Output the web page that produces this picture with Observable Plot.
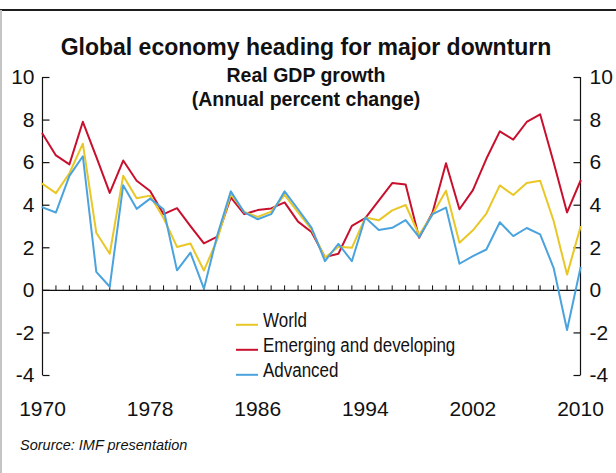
<!DOCTYPE html>
<html>
<head>
<meta charset="utf-8">
<script src="https://cdn.jsdelivr.net/npm/d3@7"></script>
<script src="https://cdn.jsdelivr.net/npm/@observablehq/plot@0.6"></script>
<style>
  body { margin: 0; background: #fff; }
  #wrap { position: relative; width: 616px; height: 473px; overflow: hidden; background: #fff; }
  #topline { position: absolute; left: 0; top: 9px; width: 616px; height: 2px; background: #1e1e1e; }
  #leftline { position: absolute; left: 0; top: 10px; width: 2px; height: 463px; background: #c4c4c4; }
  #chart, #overlay { position: absolute; left: 0; top: 0; }
  #overlay { pointer-events: none; }
</style>
</head>
<body>
<div id="wrap">
  <div id="topline"></div>
  <div id="leftline"></div>
  <div id="chart"></div>
</div>
<script>
// Real GDP growth, annual percent change, 1970–2010
const years = d3.range(1970, 2011);

const world = [
  5.0, 4.57, 5.5, 6.89, 2.71, 1.72, 5.38, 4.33, 4.45, 3.4,
  2.04, 2.2, 0.93, 2.4, 4.52, 3.69, 3.45, 3.7, 4.49, 3.66,
  2.87, 1.53, 2.05, 2.0, 3.42, 3.29, 3.76, 4.01, 2.6, 3.58,
  4.68, 2.24, 2.82, 3.61, 4.93, 4.48, 5.04, 5.15, 3.27, 0.74,
  2.98
];

const emerging = [
  7.36, 6.34, 5.92, 7.92, 6.27, 4.58, 6.1, 5.15, 4.67, 3.58,
  3.86, 3.02, 2.21, 2.52, 4.37, 3.58, 3.77, 3.85, 4.13, 3.23,
  2.74, 1.56, 1.72, 3.03, 3.39, 4.22, 5.04, 4.97, 2.47, 3.66,
  5.97, 3.81, 4.71, 6.18, 7.47, 7.08, 7.91, 8.27, 6.02, 3.66,
  5.15
];

const advanced = [
  3.9, 3.66, 5.38, 6.3, 0.87, 0.17, 4.94, 3.83, 4.31, 3.81,
  0.94, 1.77, 0.08, 2.6, 4.65, 3.66, 3.34, 3.58, 4.65, 3.81,
  2.95, 1.37, 2.19, 1.37, 3.42, 2.84, 2.94, 3.3, 2.5, 3.58,
  3.89, 1.25, 1.61, 1.92, 3.2, 2.55, 2.93, 2.63, 1.06, -1.86,
  1.06
];

const seriesNames = ["World", "Emerging and developing", "Advanced"];
const seriesColors = ["#e8c726", "#c8102e", "#4ba3de"];
const seriesValues = [world, emerging, advanced];

const yTicks = [-4, -2, 0, 2, 4, 6, 8, 10];
const yearLabels = [1970, 1978, 1986, 1994, 2002, 2010];

const titleText = "Global economy heading for major downturn";
const subtitleLines = ["Real GDP growth", "(Annual percent change)"];
const sourceText = "Sorurce: IMF presentation";

// long-format rows for the line marks
const rows = seriesNames.flatMap((name, s) =>
  years.map((year, i) => ({year, value: seriesValues[s][i], series: name}))
);

// small tick glyphs drawn as custom dot symbols
const tickUp = {draw(ctx) { ctx.moveTo(0, 0); ctx.lineTo(0, -5); }};
const tickRight = {draw(ctx) { ctx.moveTo(0, 0); ctx.lineTo(7, 0); }};
const tickLeft = {draw(ctx) { ctx.moveTo(0, 0); ctx.lineTo(-7, 0); }};

const numFont = "'Liberation Sans', Arial, sans-serif";

const chart = Plot.plot({
  width: 616,
  height: 473,
  marginTop: 77,
  marginBottom: 98,
  marginLeft: 42,
  marginRight: 36,
  style: {background: "transparent", fontFamily: numFont, color: "#111", overflow: "visible"},
  x: {domain: [1970, 2010], axis: null},
  y: {domain: [-4, 10], axis: null},
  color: {domain: seriesNames, range: seriesColors},
  marks: [
    Plot.ruleX([1970, 2010], {stroke: "#111", strokeWidth: 1.2}),
    Plot.ruleY([0], {stroke: "#111", strokeWidth: 1.2}),
    Plot.dot(years, {x: d => d, y: 0, symbol: tickUp, stroke: "#111", fill: "none", strokeWidth: 1}),
    Plot.dot(yTicks, {y: d => d, frameAnchor: "left", symbol: tickRight, stroke: "#111", fill: "none", strokeWidth: 1.2}),
    Plot.dot(yTicks, {y: d => d, frameAnchor: "right", symbol: tickLeft, stroke: "#111", fill: "none", strokeWidth: 1.2}),
    Plot.text(yTicks, {y: d => d, frameAnchor: "left", textAnchor: "end", dx: -8, text: d => String(d), fontSize: 21, fill: "#111"}),
    Plot.text(yTicks, {y: d => d, frameAnchor: "right", textAnchor: "start", dx: 9, text: d => String(d), fontSize: 21, fill: "#111"}),
    Plot.text(yearLabels, {x: d => d, frameAnchor: "bottom", lineAnchor: "top", dy: 26, text: d => String(d), fontSize: 21, fill: "#111"}),
    Plot.line(rows.filter(d => d.series === "Emerging and developing"), {x: "year", y: "value", stroke: "series", strokeWidth: 2}),
    Plot.line(rows.filter(d => d.series === "World"), {x: "year", y: "value", stroke: "series", strokeWidth: 2}),
    Plot.line(rows.filter(d => d.series === "Advanced"), {x: "year", y: "value", stroke: "series", strokeWidth: 2})
  ]
});
document.getElementById("chart").appendChild(chart);

// title block, legend and source note laid over the plot
const ov = d3.select("#wrap").append("svg")
  .attr("id", "overlay")
  .attr("width", 616).attr("height", 473)
  .style("font-family", numFont)
  .attr("fill", "#111");

ov.append("text")
  .attr("x", 306).attr("y", 55)
  .attr("text-anchor", "middle")
  .attr("font-weight", "bold").attr("font-size", 23)
  .text(titleText);

subtitleLines.forEach((line, i) => {
  ov.append("text")
    .attr("x", 306).attr("y", 82 + i * 23.5)
    .attr("text-anchor", "middle")
    .attr("font-weight", "bold").attr("font-size", 19.5)
    .text(line);
});

// legend: coloured swatch line followed by a horizontally condensed label
seriesNames.forEach((name, i) => {
  const base = 327.3 + i * 25;
  ov.append("line")
    .attr("x1", 236).attr("x2", 258)
    .attr("y1", base - 2.5).attr("y2", base - 2.5)
    .attr("stroke", seriesColors[i]).attr("stroke-width", 2);
  ov.append("text")
    .attr("transform", `translate(263,${base}) scale(0.87,1)`)
    .attr("font-size", 19.5)
    .text(name);
});

ov.append("text")
  .attr("x", 20).attr("y", 450)
  .attr("font-style", "italic").attr("font-size", 14.5)
  .text(sourceText);
</script>
</body>
</html>
